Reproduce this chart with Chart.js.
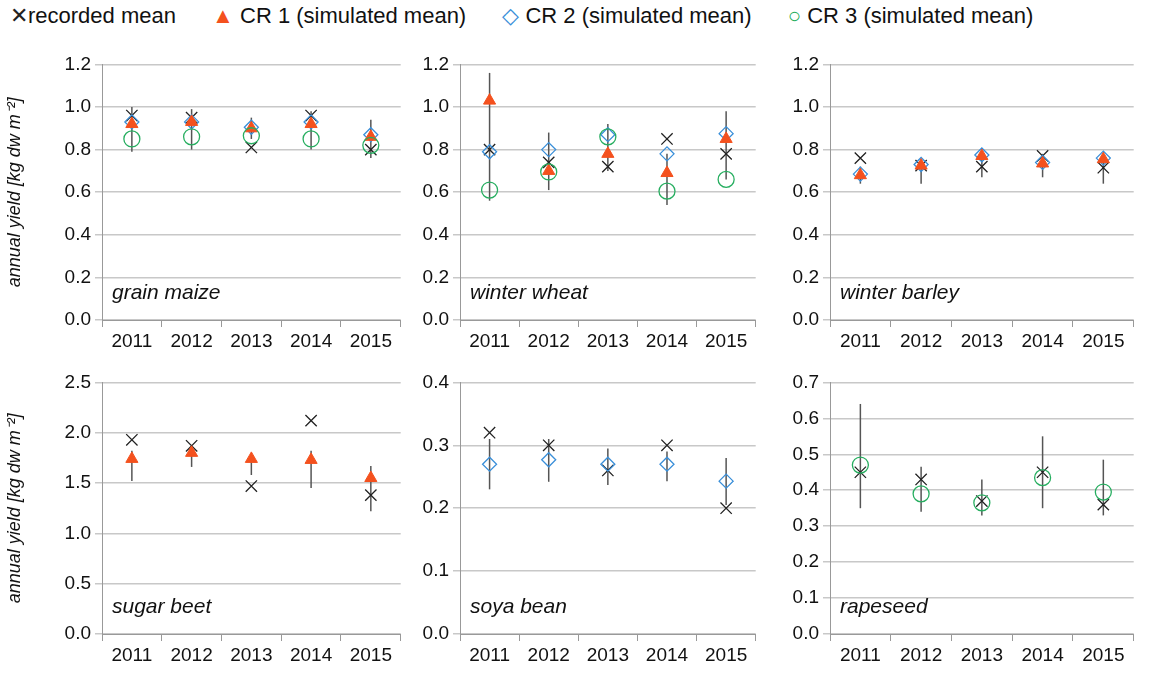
<!DOCTYPE html>
<html><head><meta charset="utf-8">
<script src="https://cdn.jsdelivr.net/npm/chart.js@4/dist/chart.umd.min.js"></script>
<style>
body{margin:0;background:#fff;width:1151px;height:676px;position:relative;overflow:hidden;font-family:"Liberation Sans",Arial,sans-serif}
canvas{position:absolute}
.lg{position:absolute;top:3px;left:10px;font-size:22px;color:#111;white-space:nowrap}
.lg span{margin-right:30px}
.crop{position:absolute;font-style:italic;font-size:21px;color:#111}
</style></head><body>
<div class="lg">
<span><b style="font-weight:normal;color:#222">✕</b>recorded mean</span>
<span><b style="font-weight:normal;color:#f4511e">▲</b> CR 1 (simulated mean)</span>
<span><b style="font-weight:normal;color:#3a8fd9">◇</b> CR 2 (simulated mean)</span>
<span style="margin-right:0"><b style="font-weight:normal;color:#27ae60">○</b> CR 3 (simulated mean)</span>
</div>
<script>
// ── Data ────────────────────────────────────────────────────────────────
const years = ['2011','2012','2013','2014','2015'];

const maizeRec = [0.96,0.95,0.81,0.96,0.80];
const maizeCR1 = [0.92,0.93,0.90,0.92,0.86];
const maizeCR2 = [0.93,0.93,0.905,0.93,0.87];
const maizeCR3 = [0.85,0.86,0.865,0.85,0.82];
const maizeLo  = [0.79,0.80,0.85,0.80,0.76];
const maizeHi  = [1.00,0.99,0.95,0.98,0.94];

const wheatRec = [0.80,0.74,0.72,0.85,0.78];
const wheatCR1 = [1.03,0.70,0.78,0.69,0.85];
const wheatCR2 = [0.79,0.80,0.87,0.78,0.875];
const wheatCR3 = [0.61,0.695,0.86,0.605,0.66];
const wheatLo  = [0.56,0.61,0.70,0.54,0.66];
const wheatHi  = [1.16,0.88,0.92,0.78,0.98];

const barleyRec = [0.76,0.725,0.72,0.77,0.715];
const barleyCR1 = [0.68,0.725,0.77,0.735,0.755];
const barleyCR2 = [0.685,0.73,0.775,0.74,0.76];
const barleyLo  = [0.64,0.64,0.67,0.67,0.64];
const barleyHi  = [0.72,0.74,0.78,0.78,0.76];

const beetRec = [1.93,1.87,1.47,2.12,1.38];
const beetCR1 = [1.74,1.80,1.74,1.73,1.55];
const beetLo  = [1.52,1.66,1.58,1.45,1.22];
const beetHi  = [1.82,1.84,1.76,1.82,1.67];

const soyaRec = [0.32,0.30,0.26,0.30,0.20];
const soyaCR2 = [0.27,0.277,0.27,0.27,0.243];
const soyaLo  = [0.23,0.242,0.237,0.243,0.205];
const soyaHi  = [0.31,0.31,0.295,0.29,0.28];

const rapeRec = [0.45,0.43,0.37,0.45,0.36];
const rapeCR3 = [0.47,0.39,0.365,0.435,0.395];
const rapeLo  = [0.35,0.34,0.33,0.35,0.33];
const rapeHi  = [0.64,0.465,0.43,0.55,0.485];

// ── Styles ──────────────────────────────────────────────────────────────
const FONT = '"Liberation Sans", Arial, sans-serif';
const SER = {
  rec: {pointStyle:'crossRot', radius:8, borderColor:'#222', backgroundColor:'#222', borderWidth:1.3},
  cr1: {pointStyle:'triangle', radius:7, borderColor:'#f4511e', backgroundColor:'#f4511e', borderWidth:1},
  cr2: {pointStyle:'rectRot', radius:7, borderColor:'#3a8fd9', backgroundColor:'rgba(0,0,0,0)', borderWidth:1.3},
  cr3: {pointStyle:'circle', radius:8, borderColor:'#27ae60', backgroundColor:'rgba(0,0,0,0)', borderWidth:1.3}
};

const errBars = {
  id:'errBars',
  beforeDatasetsDraw(chart, args, o) {
    const {ctx, scales:{x,y}} = chart;
    ctx.save(); ctx.strokeStyle='#555'; ctx.lineWidth=1.5;
    o.lo.forEach((lo,i)=>{
      const px = x.getPixelForValue(i);
      ctx.beginPath(); ctx.moveTo(px,y.getPixelForValue(lo)); ctx.lineTo(px,y.getPixelForValue(o.hi[i])); ctx.stroke();
    });
    ctx.restore();
  }
};

function ds(key, data) {
  const s = SER[key];
  return {data, showLine:false, pointStyle:s.pointStyle, pointRadius:s.radius, pointHoverRadius:s.radius,
    pointBorderColor:s.borderColor, pointBackgroundColor:s.backgroundColor, pointBorderWidth:s.borderWidth};
}

function panel(left, top, width, height, yw, withTitle, max, step, sets, lo, hi, name) {
  const c = document.createElement('canvas');
  c.width = width; c.height = height;
  c.style.left = left+'px'; c.style.top = top+'px';
  c.style.width = width+'px'; c.style.height = height+'px';
  document.body.appendChild(c);
  new Chart(c, {
    type:'line',
    data:{labels:years, datasets:sets},
    plugins:[errBars],
    options:{
      responsive:false, animation:false, devicePixelRatio:1,
      layout:{padding:{top:8,right:0}},
      plugins:{legend:{display:false}, tooltip:{enabled:false}, errBars:{lo,hi}},
      scales:{
        x:{offset:true, grid:{offset:true, drawOnChartArea:false, tickLength:7, color:'#999'},
           border:{color:'#999'},
           ticks:{color:'#111', font:{family:FONT,size:19}, padding:3},
           afterFit:s=>{s.height=34;}},
        y:{min:0, max, grid:{color:'#c8c8c8', lineWidth:1.5, tickLength:7}, border:{color:'#999'},
           ticks:{stepSize:step, color:'#111', font:{family:FONT,size:19}, padding:4,
                  callback:v=>v.toFixed(1)},
           title:{display:withTitle, text:'annual yield [kg dw m⁻²]', color:'#111',
                  font:{family:FONT,size:18,style:'italic'}, padding:2},
           afterFit:s=>{s.width=yw;}}
      }
    }
  });
  const d = document.createElement('div');
  d.className='crop'; d.textContent=name;
  d.style.left=(left+yw+10)+'px'; d.style.top=(top+height-34-40)+'px';
  document.body.appendChild(d);
}

// top row: plot top 57, bottom 320
panel(2, 49, 408, 305, 100, true, 1.2, 0.2,
  [ds('cr3',maizeCR3), ds('cr1',maizeCR1), ds('cr2',maizeCR2), ds('rec',maizeRec)], maizeLo, maizeHi, 'grain maize');
panel(405, 49, 360, 305, 55, false, 1.2, 0.2,
  [ds('cr3',wheatCR3), ds('cr1',wheatCR1), ds('cr2',wheatCR2), ds('rec',wheatRec)], wheatLo, wheatHi, 'winter wheat');
panel(775, 49, 368, 305, 55, false, 1.2, 0.2,
  [ds('cr1',barleyCR1), ds('cr2',barleyCR2), ds('rec',barleyRec)], barleyLo, barleyHi, 'winter barley');
// bottom row: plot top 375, bottom 634
panel(2, 367, 408, 301, 100, true, 2.5, 0.5,
  [ds('cr1',beetCR1), ds('rec',beetRec)], beetLo, beetHi, 'sugar beet');
panel(405, 367, 360, 301, 55, false, 0.4, 0.1,
  [ds('cr2',soyaCR2), ds('rec',soyaRec)], soyaLo, soyaHi, 'soya bean');
panel(775, 367, 368, 301, 55, false, 0.7, 0.1,
  [ds('cr3',rapeCR3), ds('rec',rapeRec)], rapeLo, rapeHi, 'rapeseed');
</script>
</body></html>
